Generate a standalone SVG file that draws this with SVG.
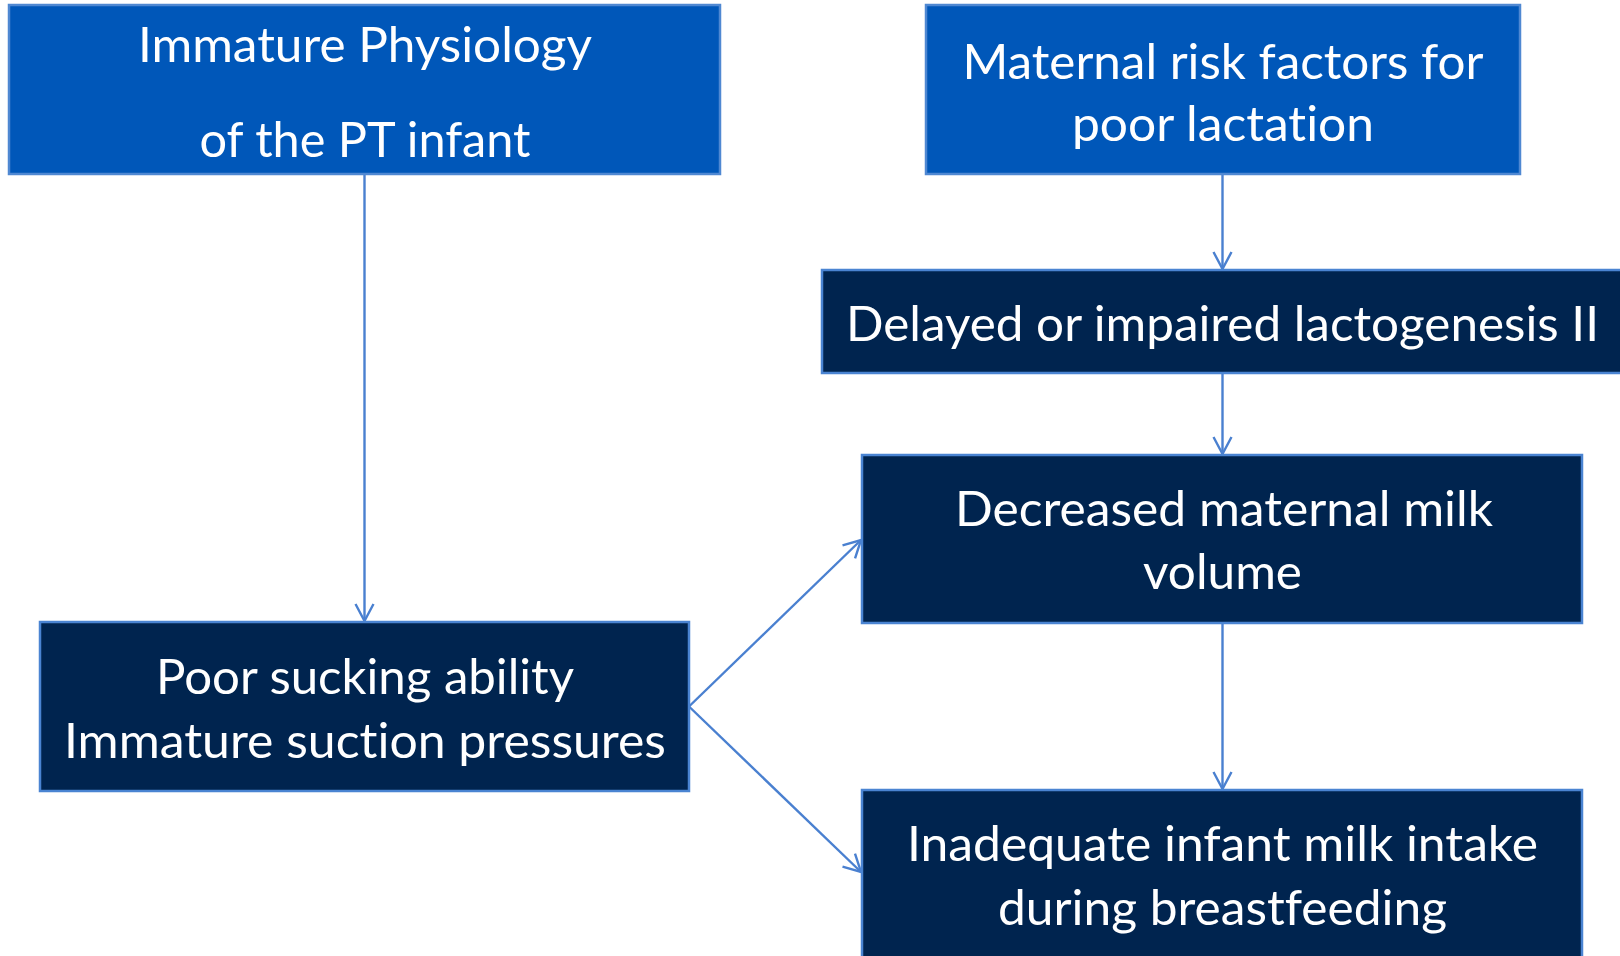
<svg xmlns="http://www.w3.org/2000/svg" width="1620" height="956" viewBox="0 0 1620 956">
<defs>
<marker id="arr" markerUnits="userSpaceOnUse" markerWidth="24" markerHeight="24" viewBox="-20 -12 24 24" refX="0" refY="0" orient="auto">
<path d="M-17,-9 L0,0 L-17,9" fill="none" stroke="#4A80D0" stroke-width="2.4"/>
</marker>
</defs>
<style>
.blue{fill:#0057B9;stroke:#4F88D2;stroke-width:2.5}
.navy{fill:#00244F;stroke:#4A84D2;stroke-width:2.5}
.t{font-family:Lato,"Open Sans","Liberation Sans",sans-serif;font-size:48px;fill:#ffffff;text-anchor:middle;font-variant-ligatures:none;font-feature-settings:"liga" 0}
.c{stroke:#4A80D0;stroke-width:2.4;fill:none}
</style>
<rect width="1620" height="956" fill="#ffffff"/>
<g id="connectors">
<line class="c" x1="364.5" y1="174" x2="364.5" y2="621" marker-end="url(#arr)"/>
<line class="c" x1="1222.5" y1="174" x2="1222.5" y2="269" marker-end="url(#arr)"/>
<line class="c" x1="1222.5" y1="373" x2="1222.5" y2="454" marker-end="url(#arr)"/>
<line class="c" x1="1222.5" y1="623" x2="1222.5" y2="789" marker-end="url(#arr)"/>
<line class="c" x1="689" y1="706.5" x2="861" y2="540" marker-end="url(#arr)"/>
<line class="c" x1="689" y1="706.5" x2="861" y2="872" marker-end="url(#arr)"/>
</g>
<g id="immature-physiology">
<rect class="blue" x="9" y="5" width="711" height="169"/>
<text class="t" x="365" y="62" textLength="454" lengthAdjust="spacingAndGlyphs">Immature Physiology</text>
<text class="t" x="365" y="157" textLength="331" lengthAdjust="spacingAndGlyphs">of the PT infant</text>
</g>
<g id="maternal-risk">
<rect class="blue" x="926" y="5" width="594" height="169"/>
<text class="t" x="1223" y="78.5" textLength="521" lengthAdjust="spacingAndGlyphs">Maternal risk factors for</text>
<text class="t" x="1223" y="140.5" textLength="302" lengthAdjust="spacingAndGlyphs">poor lactation</text>
</g>
<g id="delayed-lactogenesis">
<rect class="navy" x="822" y="270" width="810" height="103"/>
<text class="t" x="1222.5" y="341" textLength="753" lengthAdjust="spacingAndGlyphs">Delayed or impaired lactogenesis II</text>
</g>
<g id="decreased-volume">
<rect class="navy" x="862" y="455" width="720" height="168"/>
<text class="t" x="1224" y="526" textLength="538" lengthAdjust="spacingAndGlyphs">Decreased maternal milk</text>
<text class="t" x="1222.5" y="589" textLength="159" lengthAdjust="spacingAndGlyphs">volume</text>
</g>
<g id="poor-sucking">
<rect class="navy" x="40" y="622" width="649" height="169"/>
<text class="t" x="365" y="694" textLength="418" lengthAdjust="spacingAndGlyphs">Poor sucking ability</text>
<text class="t" x="365" y="758" textLength="602" lengthAdjust="spacingAndGlyphs">Immature suction pressures</text>
</g>
<g id="inadequate-intake">
<rect class="navy" x="862" y="790" width="720" height="180"/>
<text class="t" x="1222.5" y="860.5" textLength="631" lengthAdjust="spacingAndGlyphs">Inadequate infant milk intake</text>
<text class="t" x="1222.5" y="924.5" textLength="449" lengthAdjust="spacingAndGlyphs">during breastfeeding</text>
</g>
</svg>
